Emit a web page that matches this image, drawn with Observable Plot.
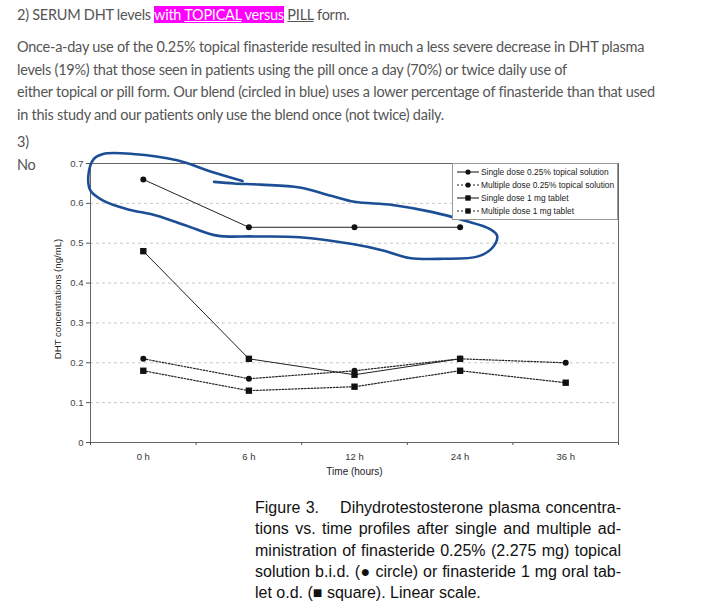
<!DOCTYPE html>
<html>
<head>
<meta charset="utf-8">
<script src="https://cdn.jsdelivr.net/npm/d3@7"></script>
<script src="https://cdn.jsdelivr.net/npm/@observablehq/plot@0.6"></script>
<style>
  html, body { margin: 0; padding: 0; background: #fff; }
  body { width: 702px; height: 611px; position: relative; overflow: hidden; }
  .txt { position: absolute; left: 17px; font-family: Lato, "Open Sans", sans-serif; font-size: 14.5px; letter-spacing: -0.25px; color: #555; white-space: nowrap; }
  .hl { background: #ff00ff; color: #fff; }
  .u { text-decoration: underline; }
  #chart { position: absolute; left: 0; top: 140px; }
  #legend { position: absolute; left: 452px; top: 163px; width: 164px; height: 55px; border: 1px solid #999; background: #fff;
            font-family: Arial, "Liberation Sans", sans-serif; font-size: 8.4px; color: #222; }
  #legend .row { position: absolute; left: 4px; height: 10px; display: flex; align-items: center; white-space: nowrap; }
  #legend svg { margin-right: 2px; }
  #caption { position: absolute; left: 255px; top: 497px; width: 366px; font-family: Arial, "Liberation Sans", sans-serif; font-size: 16px; line-height: 21.3px; color: #111; }
  #caption div { text-align: justify; text-align-last: justify; white-space: nowrap; }
  #caption div.last { text-align-last: left; }
</style>
</head>
<body>
<div class="txt" style="top:6px">2) SERUM DHT levels <span class="hl">with <span class="u">TOPICAL</span> versus</span> <span class="u">PILL</span> form.</div>
<div class="txt" style="top:38px">Once-a-day use of the 0.25% topical finasteride resulted in much a less severe decrease in DHT plasma</div>
<div class="txt" style="top:60.5px">levels (19%) that those seen in patients using the pill once a day (70%) or twice daily use of</div>
<div class="txt" style="top:83px">either topical or pill form. Our blend (circled in blue) uses a lower percentage of finasteride than that used</div>
<div class="txt" style="top:105.5px">in this study and our patients only use the blend once (not twice) daily.</div>
<div class="txt" style="top:133px">3)</div>
<div class="txt" style="top:156px">No</div>

<div id="chart"></div>
<div id="legend"></div>

<div id="caption">
  <div>Figure 3.&nbsp;&nbsp;&nbsp; Dihydrotestosterone plasma concentra-</div>
  <div>tions vs. time profiles after single and multiple ad-</div>
  <div>ministration of finasteride 0.25% (2.275 mg) topical</div>
  <div>solution b.i.d. (&#9679; circle) or finasteride 1 mg oral tab-</div>
  <div class="last">let o.d. (&#9632; square). Linear scale.</div>
</div>

<script>
// ---- Data ----
const times = ["0 h", "6 h", "12 h", "24 h", "36 h"];
const yTicks = [0, 0.1, 0.2, 0.3, 0.4, 0.5, 0.6, 0.7];
const seriesNames = [
  "Single dose 0.25% topical solution",
  "Multiple dose 0.25% topical solution",
  "Single dose 1 mg tablet",
  "Multiple dose 1 mg tablet"
];
const singleTopical   = [0.66, 0.54, 0.54, 0.54, null];
const multipleTopical = [0.21, 0.16, 0.18, 0.21, 0.20];
const singleTablet    = [0.48, 0.21, 0.17, 0.21, null];
const multipleTablet  = [0.18, 0.13, 0.14, 0.18, 0.15];
const seriesStyle = [
  {values: singleTopical,   dash: null,    symbol: "circle"},
  {values: multipleTopical, dash: "1.6,1.6", symbol: "circle"},
  {values: singleTablet,    dash: null,    symbol: "square"},
  {values: multipleTablet,  dash: "1.6,1.6", symbol: "square"}
];
// Hand-drawn blue outline (time index, DHT ng/mL)
const outlineX = [0.94,0.66,0.32,-0.1,-0.38,-0.47,-0.52,-0.5,-0.38,-0.16,0.13,0.41,0.7,1.04,1.48,1.98,2.27,2.52,2.84,3.17,3.31,3.35,3.28,3.04,2.74,2.36,2.0,1.78,1.48,1.11,0.86,0.67];
const outlineY = [0.656,0.678,0.708,0.724,0.724,0.711,0.670,0.632,0.607,0.586,0.569,0.544,0.519,0.517,0.515,0.498,0.482,0.463,0.461,0.467,0.490,0.519,0.536,0.557,0.578,0.596,0.604,0.619,0.640,0.647,0.650,0.654];

// ---- Build tables ----
const rows = [];
seriesStyle.forEach((s, si) => {
  s.values.forEach((v, i) => { if (v != null) rows.push({series: seriesNames[si], i, v}); });
});
const outline = outlineX.map((x, k) => ({x, y: outlineY[k]}));

const marks = [
  Plot.gridY(yTicks.filter(t => t > 0 && t < 0.7), {stroke: "#c8c8c8", strokeOpacity: 1, strokeDasharray: "3,3"}),
  Plot.frame({stroke: "#666", strokeWidth: 1}),
  Plot.axisY({ticks: yTicks, tickFormat: d => d === 0 ? "0" : d3.format(".1f")(d), tickSize: 4, tickPadding: 3,
    fontSize: 9.5, fill: "#444", stroke: "#555", label: null}),
  Plot.axisX({ticks: [0,1,2,3,4], tickFormat: i => times[i], tickSize: 0, tickPadding: 11,
    fontSize: 9.5, fill: "#333", label: null}),
  Plot.axisX({ticks: [-0.5,0.5,1.5,2.5,3.5,4.5], tickFormat: () => "", tickSize: 3, stroke: "#555", label: null}),
  Plot.text(["DHT concentrations (ng/mL)"], {frameAnchor: "left", textAnchor: "middle", dx: -33, dy: -4, rotate: -90, fontSize: 9.6, fill: "#222"}),
  Plot.text(["Time (hours)"], {frameAnchor: "bottom", dy: 32, fontSize: 10, fill: "#222"})
];
seriesStyle.forEach((s, si) => {
  const data = rows.filter(r => r.series === seriesNames[si]);
  marks.push(Plot.line(data, {x: "i", y: "v", stroke: "#222", strokeWidth: s.dash ? 1.2 : 1, strokeDasharray: s.dash}));
  marks.push(Plot.dot(data, {x: "i", y: "v", symbol: () => s.symbol, r: s.symbol === "square" ? 3.6 : 3, fill: "#111", stroke: "none"}));
});
marks.push(Plot.line(outline, {x: "x", y: "y", curve: "catmull-rom", stroke: "#1c4e96", strokeWidth: 2.6, strokeLinecap: "round"}));

const chart = Plot.plot({
  width: 640,
  height: 350,
  marginLeft: 90,
  marginRight: 22,
  marginTop: 23,
  marginBottom: 48,
  style: {background: "transparent", overflow: "visible", fontFamily: "Arial, 'Liberation Sans', sans-serif", fontSize: "9.5px"},
  x: {type: "linear", domain: [-0.5, 4.5], axis: null},
  y: {type: "linear", domain: [0, 0.7], axis: null},
  symbol: {type: "identity"},
  marks
});
document.getElementById("chart").appendChild(chart);

// ---- Legend ----
const legend = document.getElementById("legend");
seriesStyle.forEach((s, si) => {
  const row = document.createElement("div");
  row.className = "row";
  row.style.top = (3 + si * 13) + "px";
  const sym = s.symbol === "circle"
    ? '<circle cx="11" cy="4" r="2.6" fill="#111"/>'
    : '<rect x="8.3" y="1.3" width="5.4" height="5.4" fill="#111"/>';
  row.innerHTML = `<svg width="22" height="8"><line x1="0" y1="4" x2="22" y2="4" stroke="#222" stroke-width="1.1" ${s.dash ? 'stroke-dasharray="2,2"' : ''}/>${sym}</svg><span>${seriesNames[si]}</span>`;
  legend.appendChild(row);
});
</script>
</body>
</html>
